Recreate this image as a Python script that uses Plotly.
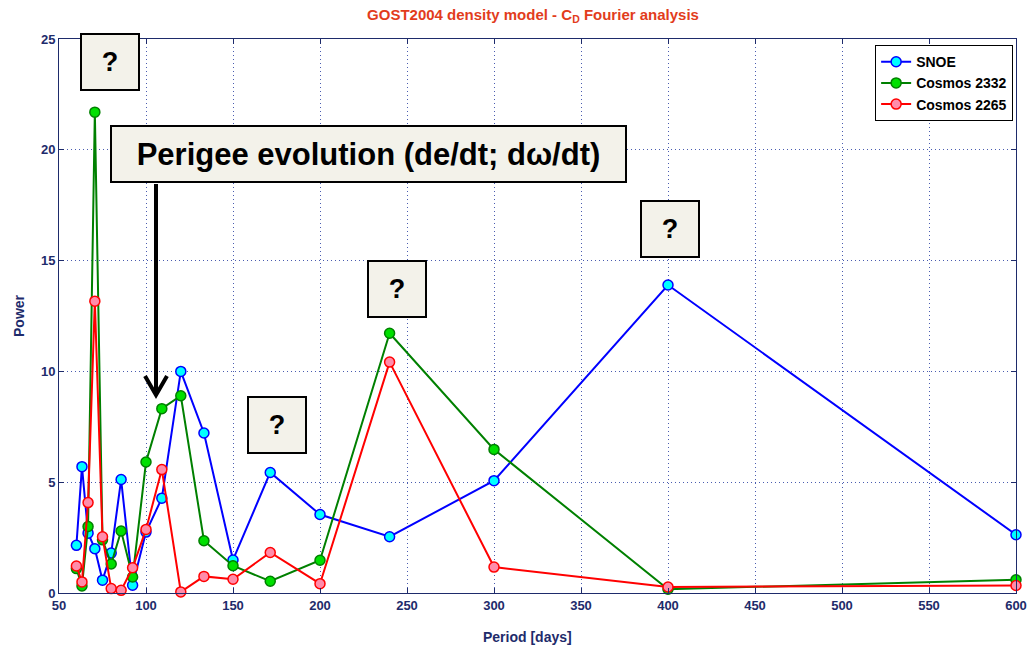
"""
GOST2004 density model - C_D Fourier analysis (power vs period).
"""

import plotly.graph_objects as go

# Periods of the Fourier components [days]
period = [60, 63.2, 66.7, 70.6, 75, 80, 85.7, 92.3, 100, 109.1,
          120, 133.3, 150, 171.4, 200, 240, 300, 400, 600]

snoe = [2.15, 5.7, 2.7, 2.0, 0.58, 1.8, 5.12, 0.35, 2.75, 4.28,
        10.0, 7.22, 1.49, 5.44, 3.54, 2.54, 5.07, 13.9, 2.63]
cosmos_2332 = [1.1, 0.32, 3.0, 21.7, 2.4, 1.31, 2.8, 0.72, 5.91, 8.32,
               8.9, 2.36, 1.23, 0.53, 1.48, 11.72, 6.48, 0.17, 0.6]
cosmos_2265 = [1.22, 0.5, 4.08, 13.17, 2.54, 0.2, 0.12, 1.14, 2.87, 5.57,
               0.05, 0.75, 0.62, 1.83, 0.42, 10.42, 1.17, 0.27, 0.34]

x_ticks = [50, 100, 150, 200, 250, 300, 350, 400, 450, 500, 550, 600]
y_ticks = [0, 5, 10, 15, 20, 25]

FONT = "Liberation Sans, Arial, sans-serif"
NAVY = "#1E2B6B"
GRID = "#4A5CB0"
BOX_BG = "#F3F2EA"

W, H = 1030, 650
M_L, M_R, M_T, M_B = 59, 14, 39, 57
X_RANGE = [50, 600]
Y_RANGE = [0, 25]


def px_x(px):
    """Pixel column -> data x."""
    return X_RANGE[0] + (px - M_L) * (X_RANGE[1] - X_RANGE[0]) / (W - M_L - M_R)


def px_y(py):
    """Pixel row -> data y."""
    return Y_RANGE[0] + (H - M_B - py) * (Y_RANGE[1] - Y_RANGE[0]) / (H - M_T - M_B)


fig = go.Figure()

series = [
    ("SNOE", snoe, "#0000FF", "#00FFFF"),
    ("Cosmos 2332", cosmos_2332, "#008000", "#00E000"),
    ("Cosmos 2265", cosmos_2265, "#FF0000", "#FF8CAA"),
]
for name, vals, line_c, fill_c in series:
    fig.add_trace(go.Scatter(
        x=period, y=vals, name=name, mode="lines+markers",
        line=dict(color=line_c, width=2),
        marker=dict(symbol="circle", size=10, color=fill_c,
                    line=dict(color=line_c, width=1.5)),
        cliponaxis=False,
    ))

axis_common = dict(
    showline=True, linecolor=NAVY, linewidth=1, mirror="ticks",
    ticks="inside", ticklen=5, tickcolor=NAVY,
    showgrid=True, gridcolor=GRID, griddash="1px,3px", gridwidth=1,
    zeroline=False, automargin=False,
    tickfont=dict(family=FONT, size=13, color=NAVY, weight="bold"),
)

fig.update_xaxes(range=X_RANGE, tickvals=x_ticks, **axis_common)
fig.update_yaxes(range=Y_RANGE, tickvals=y_ticks, **axis_common)

# Question-mark boxes and the perigee label (pixel centre, size)
boxes = [
    ("?", 110, 62, 60, 58, 27),
    ("Perigee evolution (de/dt; d\u03c9/dt)", 368.5, 153.5, 517, 58, 31),
    ("?", 276.5, 425, 60, 58, 27),
    ("?", 396.5, 288.5, 60, 58, 27),
    ("?", 670, 228.5, 60, 58, 27),
]
for text, cx, cy, w, h, fs in boxes:
    fig.add_annotation(
        x=px_x(cx), y=px_y(cy), xref="x", yref="y",
        text=text, showarrow=False,
        width=w - 4, height=h - 4, borderpad=0,
        bgcolor=BOX_BG, bordercolor="black", borderwidth=2,
        font=dict(family=FONT, size=fs, color="black", weight="bold"),
        align="center", valign="middle",
    )

# Arrow from perigee label down to the ~108 day peak
fig.add_shape(type="line", x0=px_x(156), x1=px_x(156), y0=px_y(184), y1=px_y(393),
              line=dict(color="black", width=4))
fig.add_shape(
    type="path",
    path=f"M {px_x(145)} {px_y(376)} L {px_x(156)} {px_y(395)} L {px_x(167)} {px_y(376)}",
    line=dict(color="black", width=4),
)

# Axis titles
fig.add_annotation(
    x=(527 - M_L) / (W - M_L - M_R), y=(H - M_B - 637) / (H - M_T - M_B),
    xref="paper", yref="paper", xanchor="center", yanchor="middle",
    text="Period [days]", showarrow=False,
    font=dict(family=FONT, size=14, color=NAVY, weight="bold"),
)
fig.add_annotation(
    x=(19 - M_L) / (W - M_L - M_R), y=0.5, xref="paper", yref="paper",
    xanchor="center", yanchor="middle",
    text="Power", textangle=-90, showarrow=False,
    font=dict(family=FONT, size=14, color=NAVY, weight="bold"),
)

fig.update_layout(
    width=W, height=H,
    margin=dict(l=M_L, r=M_R, t=M_T, b=M_B, autoexpand=False),
    paper_bgcolor="white", plot_bgcolor="white",
    title=dict(
        text="GOST2004 density model - C<sub>D</sub> Fourier analysis",
        x=533 / W, xanchor="center", y=1 - 15 / H, yanchor="middle",
        font=dict(family=FONT, size=15, color="#E23C1C", weight="bold"),
    ),
    legend=dict(
        x=0.997, xanchor="right", y=0.989, yanchor="top",
        bgcolor="white", bordercolor="black", borderwidth=1,
        font=dict(family=FONT, size=14, color="black", weight="bold"),
        tracegroupgap=0,
    ),
    showlegend=True,
)

# page body has a default 8px margin; drop it so the figure sits at 0,0
fig.write_html(
    "out.html",
    config={"displayModeBar": False},
    post_script="document.body.style.margin='0';document.body.style.overflow='hidden';",
)
